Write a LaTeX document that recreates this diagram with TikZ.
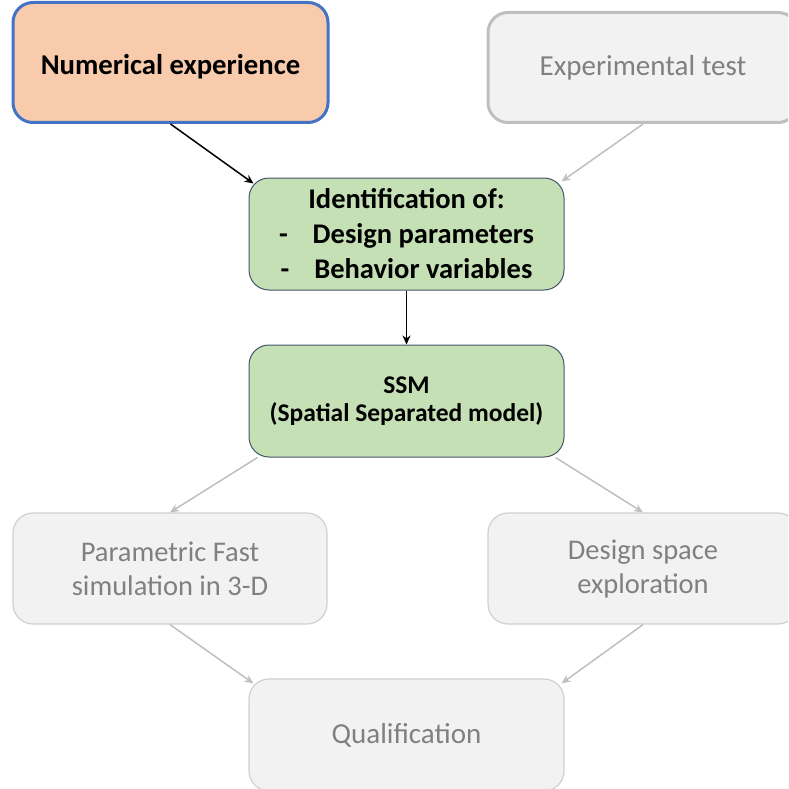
\documentclass[tikz,border=0pt]{standalone}
\usepackage{fontspec}
\setmainfont{Carlito}
\usepackage{xcolor}
\usetikzlibrary{positioning,shapes,arrows.meta}

\definecolor{peach}{HTML}{F8CBAD}
\definecolor{officeblue}{HTML}{4472C4}
\definecolor{leafgreen}{HTML}{C5E0B4}
\definecolor{slateline}{HTML}{44546A}
\definecolor{palegray}{HTML}{F2F2F2}
\definecolor{edgegray}{HTML}{BFBFBF}
\definecolor{softgray}{HTML}{D0D0D0}
\definecolor{textgray}{HTML}{808080}

\tikzset{
  stagebox/.style={draw,rounded corners=20pt,minimum width=315pt,minimum height=112pt,align=center},
  activebox/.style={stagebox,fill=leafgreen,draw=slateline,line width=1pt,font=\bfseries},
  idlebox/.style={stagebox,fill=palegray,draw=softgray,line width=1.2pt,text=textgray},
  darkflow/.style={line width=1.5pt,-{Stealth[length=9pt,width=8pt]}},
  paleflow/.style={line width=1.5pt,draw=edgegray,-{Stealth[length=9pt,width=8pt]},color=edgegray}
}

\begin{document}
\begin{tikzpicture}[x=1pt,y=-1pt]
  \useasboundingbox (0,0) rectangle (788,789);
  \clip (0,0) rectangle (788,789);
  % top row
  \node[stagebox,fill=peach,draw=officeblue,line width=3pt,minimum height=120pt] (numexp) at (170.5,62.5) {};
  \node[font=\fontsize{28.7}{32}\selectfont\bfseries] (numtxt) at (170.5,67) {Numerical experience};
  \node[stagebox,fill=palegray,draw=edgegray,line width=3pt,minimum width=310pt,minimum height=110pt,text=textgray,font=\fontsize{29}{32}\selectfont] (exptest) at (643,67.5) {Experimental test};
  % middle column
  \node[activebox,font=\fontsize{28.5}{35}\selectfont\bfseries] (ident) at (406.5,234) {Identification of:\\-\hspace{25pt}Design parameters\\-\hspace{25pt}Behavior variables};
  \node[activebox,font=\fontsize{25.5}{27.5}\selectfont\bfseries] (ssm) at (406.5,401) {SSM\\(Spatial Separated model)};
  % lower rows
  \node[idlebox,minimum width=314pt,minimum height=111pt,font=\fontsize{28.5}{34}\selectfont] (parsim) at (170,568.5) {Parametric Fast\\simulation in 3-D};
  \node[idlebox,minimum width=310pt,minimum height=111pt,font=\fontsize{28.5}{34}\selectfont] (design) at (643,568.5) {Design space\\exploration};
  \node[idlebox,font=\fontsize{29}{32}\selectfont] (qualif) at (406.5,735) {Qualification};
  % connectors
  \draw[darkflow] (numexp.south) -- ([xshift=5pt,yshift=-6pt]ident.north west);
  \draw[paleflow] (exptest.south) -- ([xshift=-3pt,yshift=-4pt]ident.north east);
  \draw[darkflow] (ident.south) -- (ssm.north);
  \draw[paleflow] ([xshift=9pt]ssm.south west) -- (parsim.north);
  \draw[paleflow] ([xshift=-9pt]ssm.south east) -- (design.north);
  \draw[paleflow] (parsim.south) -- ([xshift=5pt,yshift=-5pt]qualif.north west);
  \draw[paleflow] (design.south) -- ([xshift=-3pt,yshift=-5pt]qualif.north east);
\end{tikzpicture}
\end{document}
